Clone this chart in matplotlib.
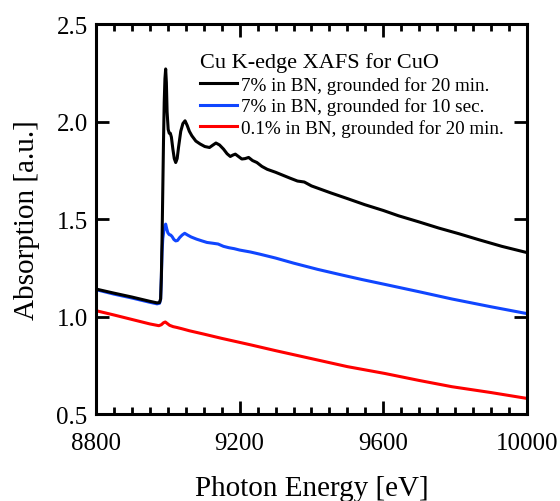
import matplotlib
matplotlib.use("Agg")
import matplotlib.pyplot as plt
from matplotlib.ticker import MultipleLocator

# photon energy [eV] and absorption [a.u.]
e_black = [8800, 8850, 8900, 8950, 8970, 8977, 8980, 8982, 8984, 8986, 8988, 8990, 8992, 8994,
           8996, 8998, 9001, 9004, 9007, 9010, 9014, 9018, 9022, 9026, 9030, 9036, 9042, 9048,
           9054, 9060, 9067, 9078, 9090, 9103, 9116, 9126, 9134, 9144, 9155, 9165, 9174, 9181,
           9188, 9196, 9206, 9215, 9225, 9236, 9248, 9262, 9277, 9300, 9320, 9340, 9361, 9380,
           9400, 9454, 9500, 9548, 9600, 9642, 9700, 9754, 9810, 9866, 9930, 10000]
a_black = [1.141, 1.120, 1.100, 1.078, 1.070, 1.072, 1.090, 1.200, 1.400, 1.650, 1.900, 2.100, 2.220, 2.270,
           2.200, 2.050, 1.960, 1.940, 1.940, 1.920, 1.860, 1.810, 1.790, 1.810, 1.870, 1.950, 1.990, 2.004,
           1.980, 1.950, 1.927, 1.900, 1.885, 1.872, 1.867, 1.880, 1.890, 1.880, 1.859, 1.835, 1.821, 1.828,
           1.833, 1.822, 1.808, 1.810, 1.816, 1.800, 1.790, 1.770, 1.755, 1.740, 1.725, 1.710, 1.695, 1.690,
           1.670, 1.634, 1.605, 1.574, 1.544, 1.517, 1.485, 1.454, 1.425, 1.394, 1.360, 1.328]

e_blue = [8800, 8850, 8900, 8950, 8970, 8977, 8980, 8982, 8984, 8986, 8989, 8992, 8994, 8997,
          9000, 9004, 9008, 9012, 9017, 9022, 9027, 9033, 9040, 9047, 9055, 9065, 9080, 9095,
          9109, 9125, 9140, 9155, 9170, 9185, 9200, 9230, 9256, 9300, 9350, 9417, 9480, 9540,
          9604, 9700, 9791, 9900, 10000]
a_blue = [1.138, 1.115, 1.095, 1.073, 1.065, 1.068, 1.090, 1.200, 1.330, 1.400, 1.440, 1.465, 1.474, 1.450,
          1.430, 1.420, 1.418, 1.410, 1.395, 1.388, 1.390, 1.405, 1.418, 1.427, 1.418, 1.408, 1.397, 1.388,
          1.380, 1.376, 1.372, 1.360, 1.353, 1.348, 1.341, 1.331, 1.320, 1.300, 1.274, 1.242, 1.215, 1.190,
          1.165, 1.127, 1.090, 1.050, 1.015]

e_red = [8800, 8850, 8900, 8950, 8975, 8982, 8988, 8993, 8998, 9005, 9015, 9025, 9040, 9060,
         9100, 9150, 9230, 9300, 9417, 9500, 9604, 9700, 9791, 9900, 10000]
a_red = [1.030, 1.008, 0.985, 0.962, 0.953, 0.958, 0.968, 0.972, 0.965, 0.955, 0.948, 0.944, 0.937, 0.927,
         0.910, 0.888, 0.855, 0.825, 0.777, 0.743, 0.708, 0.672, 0.640, 0.610, 0.580]

labels = ["7% in BN, grounded for 20 min.",
          "7% in BN, grounded for 10 sec.",
          "0.1% in BN, grounded for 20 min."]
colors = ["black", "#1046ff", "#ff0000"]

plt.rcParams["font.family"] = ["Liberation Serif", "DejaVu Serif"]

fig = plt.figure(figsize=(5.6, 5.02), dpi=100)
ax = fig.add_axes([0.1714, 0.1733, 0.7696, 0.7767])

ax.plot(e_black, a_black, color=colors[0], lw=2.2, label=labels[0], zorder=3)
ax.plot(e_blue, a_blue, color=colors[1], lw=2.2, label=labels[1], zorder=2)
ax.plot(e_red, a_red, color=colors[2], lw=2.2, label=labels[2], zorder=2)

ax.set_xlim(8800, 10000)
ax.set_ylim(0.5, 2.5)
ax.xaxis.set_major_locator(MultipleLocator(400))
ax.xaxis.set_minor_locator(MultipleLocator(50))
ax.yaxis.set_major_locator(MultipleLocator(0.5))
ax.yaxis.set_major_formatter(plt.FormatStrFormatter("%.1f"))

for s in ax.spines.values():
    s.set_linewidth(2.2)
ax.tick_params(which="both", direction="in", top=True, right=True, width=2.0)
ax.tick_params(which="major", length=9.5, labelsize=18)
ax.tick_params(which="minor", length=5)
ax.tick_params(axis="x", pad=13)
ax.tick_params(axis="y", pad=6)

ax.set_xlabel("Photon Energy [eV]", fontsize=21, labelpad=15)
ax.set_ylabel("Absorption [a.u.]", fontsize=21, labelpad=12)

leg = ax.legend(title="Cu K-edge XAFS for CuO", frameon=False, fontsize=13.8,
                title_fontsize=16, alignment="left", loc="upper left",
                bbox_to_anchor=(0.214, 0.958), handlelength=1.95, handletextpad=0.2,
                labelspacing=0.2, borderaxespad=0.2)

fig.savefig("out.png", dpi=100)
